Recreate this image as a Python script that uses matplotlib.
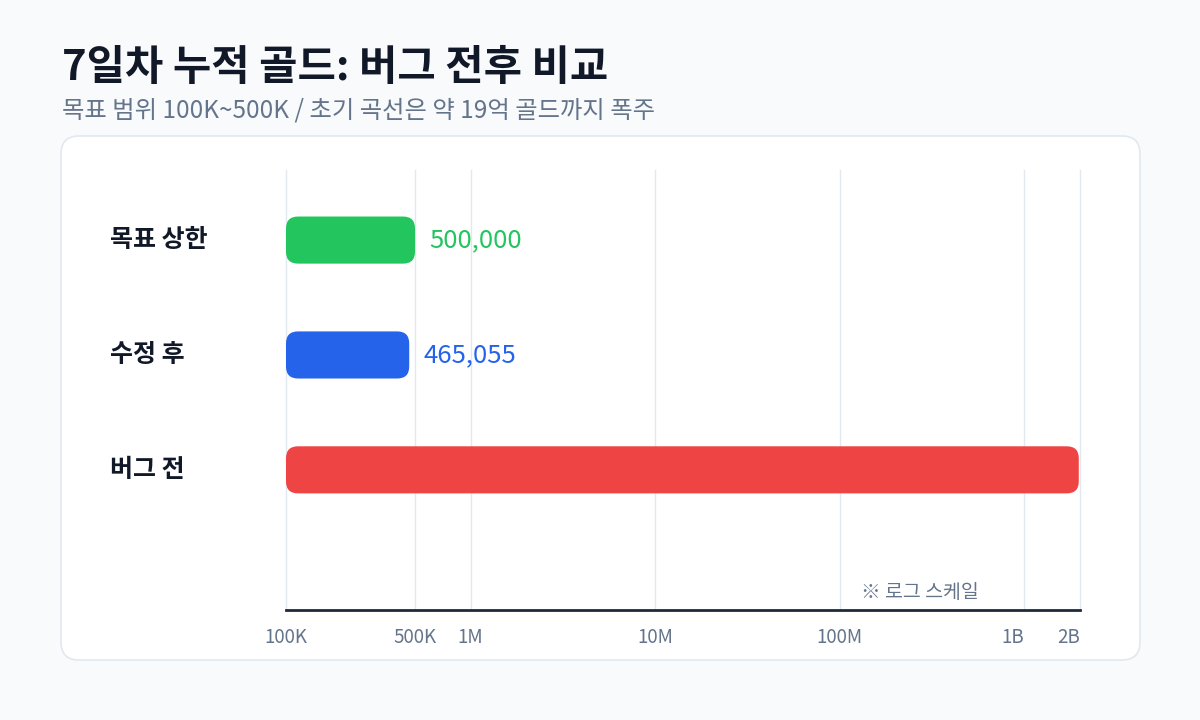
import matplotlib
matplotlib.use("Agg")
import matplotlib.pyplot as plt
from matplotlib.patches import FancyBboxPatch
from matplotlib.transforms import blended_transform_factory

plt.rcParams['font.family'] = ['Noto Sans CJK KR', 'DejaVu Sans']

# ── data ─────────────────────────────────────
categories = ["목표 상한", "수정 후", "버그 전"]
values = [500_000, 465_055, 1_970_000_000]
value_labels = ["500,000", "465,055", ""]
bar_colors = ["#22c55e", "#2563eb", "#ef4444"]
x_start = 100_000
x_end = 2_000_000_000
tick_values = [1e5, 5e5, 1e6, 1e7, 1e8, 1e9, 2e9]
tick_labels = ["100K", "500K", "1M", "10M", "100M", "1B", "2B"]

BG = "#f8fafc"
TEXT = "#111827"
MUTED = "#64748b"
GRID = "#e2e8f0"

W, H = 1200, 720
fig = plt.figure(figsize=(12, 7.2), dpi=100, facecolor=BG)

# card
card = FancyBboxPatch((61 / W, (720 - 660) / H), (1140 - 61) / W, (660 - 136) / H,
                      boxstyle="round,pad=0,rounding_size=0.015",
                      transform=fig.transFigure, facecolor="white",
                      edgecolor=GRID, linewidth=1.2, zorder=-5,
                      mutation_aspect=W / H)
fig.patches.append(card)

fig.text(62 / W, 1 - 68 / H, "7일차 누적 골드: 버그 전후 비교", fontsize=30,
         fontweight="bold", color=TEXT, va="center", ha="left")
fig.text(62 / W, 1 - 110 / H, "목표 범위 100K~500K / 초기 곡선은 약 19억 골드까지 폭주",
         fontsize=17.5, color=MUTED, va="center", ha="left")

ax = fig.add_axes([286 / W, (720 - 610) / H, (1080 - 286) / W, (610 - 170) / H])
ax.set_facecolor("none")
ax.set_xscale("log")
ax.set_xlim(x_start, x_end)
ax.set_ylim(3.22, -0.61)

ypos = list(range(len(categories)))
widths = [v - x_start for v in values]
bars = ax.barh(ypos, widths, left=x_start, height=0.41, color=bar_colors)

# grid lines (unclipped so the 2B line on the edge still shows)
for t in tick_values:
    ax.axvline(t, color=GRID, linewidth=1, zorder=0, clip_on=False)

for sp in ["top", "right", "left"]:
    ax.spines[sp].set_visible(False)
ax.spines["bottom"].set_color("#1e293b")
ax.spines["bottom"].set_linewidth(2)
ax.set_yticks([])
ax.set_xticks(tick_values)
ax.set_xticklabels(tick_labels)
ax.xaxis.set_minor_locator(matplotlib.ticker.NullLocator())
ax.tick_params(axis="x", length=0, pad=12, labelsize=13.5, labelcolor=MUTED)
# last two labels sit tight, right-align them on their gridlines
for lbl in ax.get_xticklabels()[-2:]:
    lbl.set_horizontalalignment("right")

trans = blended_transform_factory(fig.transFigure, ax.transData)
for y, name in zip(ypos, categories):
    ax.text(110 / W, y, name, transform=trans, fontsize=18, fontweight="semibold",
            color=TEXT, va="center", ha="left")

for bar, lab, c in zip(bars, value_labels, bar_colors):
    if lab:
        ax.annotate(lab, (bar.get_x() + bar.get_width(), bar.get_y() + bar.get_height() / 2),
                    xytext=(14, 0), textcoords="offset pixels", fontsize=18.5,
                    color=c, va="center", ha="left")

ax.text(0.798, 0.04, "※ 로그 스케일", transform=ax.transAxes, fontsize=14,
        color=MUTED, ha="center", va="center")

# replace plain bars with rounded ones (pixel coords)
fig.canvas.draw()
for bar in bars:
    bb = bar.get_window_extent()
    rp = FancyBboxPatch((bb.x0, bb.y0), bb.width, bb.height,
                        boxstyle="round,pad=0,rounding_size=12",
                        transform=None, facecolor=bar.get_facecolor(),
                        edgecolor="none", zorder=3)
    fig.patches.append(rp)
    bar.set_visible(False)

fig.savefig("out.png", dpi=100, facecolor=BG)
